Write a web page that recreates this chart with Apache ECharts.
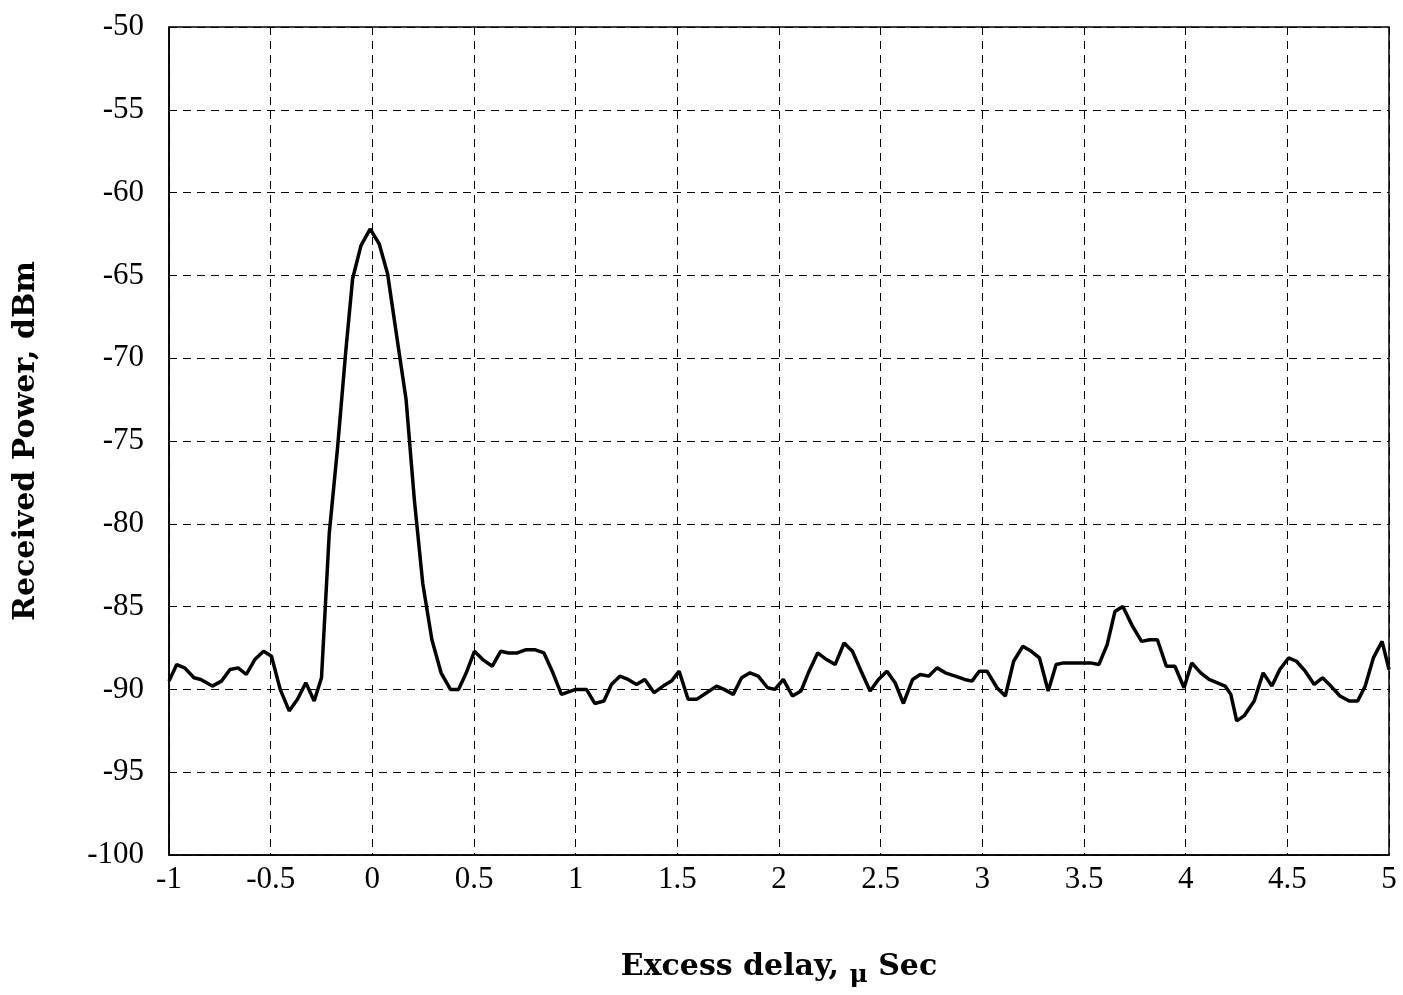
<!DOCTYPE html>
<html>
<head>
<meta charset="utf-8">
<title>Power delay profile</title>
<script src="https://cdn.jsdelivr.net/npm/echarts@6/dist/echarts.min.js"></script>
<style>
  html, body { margin: 0; padding: 0; background: #fff; }
  #chart { width: 1403px; height: 995px; }
</style>
</head>
<body>
<div id="chart"></div>
<script>
// Excess delay samples (µs) and received power (dBm)
const delay = [
  -1.000, -0.962, -0.923, -0.877, -0.844, -0.787, -0.742, -0.700, -0.660, -0.620,
  -0.578, -0.535, -0.496, -0.453, -0.409, -0.368, -0.327, -0.286, -0.250, -0.212,
  -0.171, -0.130, -0.097, -0.056, -0.011, 0.034, 0.075, 0.125, 0.166, 0.207,
  0.248, 0.293, 0.338, 0.384, 0.424, 0.462, 0.502, 0.543, 0.590, 0.631,
  0.670, 0.713, 0.757, 0.798, 0.844, 0.888, 0.930, 1.000, 1.053, 1.094,
  1.139, 1.176, 1.217, 1.258, 1.299, 1.340, 1.386, 1.430, 1.471, 1.509,
  1.553, 1.595, 1.644, 1.693, 1.730, 1.775, 1.816, 1.857, 1.898, 1.944,
  1.980, 2.021, 2.066, 2.108, 2.148, 2.190, 2.234, 2.276, 2.320, 2.361,
  2.404, 2.448, 2.489, 2.531, 2.571, 2.612, 2.657, 2.695, 2.736, 2.777,
  2.818, 2.867, 2.913, 2.949, 2.985, 3.023, 3.072, 3.113, 3.154, 3.199,
  3.241, 3.281, 3.324, 3.363, 3.400, 3.442, 3.488, 3.532, 3.573, 3.614,
  3.652, 3.691, 3.737, 3.783, 3.823, 3.861, 3.905, 3.947, 3.992, 4.030,
  4.074, 4.115, 4.156, 4.194, 4.222, 4.251, 4.287, 4.337, 4.381, 4.424,
  4.463, 4.506, 4.545, 4.588, 4.632, 4.673, 4.714, 4.759, 4.804, 4.846,
  4.883, 4.923, 4.966, 5.000
];
const power = [
  -89.5, -88.5, -88.7, -89.3, -89.4, -89.8, -89.5, -88.8, -88.7, -89.1,
  -88.2, -87.7, -88.0, -90.0, -91.3, -90.6, -89.6, -90.7, -89.3, -80.6,
  -75.4, -69.5, -65.2, -63.2, -62.2, -63.1, -64.9, -69.1, -72.5, -78.6,
  -83.6, -87.0, -89.0, -90.0, -90.0, -89.0, -87.7, -88.2, -88.6, -87.7,
  -87.8, -87.8, -87.6, -87.6, -87.8, -89.0, -90.3, -90.0, -90.0, -90.85,
  -90.7, -89.7, -89.2, -89.4, -89.7, -89.4, -90.2, -89.8, -89.5, -88.9,
  -90.6, -90.6, -90.2, -89.8, -90.0, -90.3, -89.3, -89.0, -89.2, -89.9,
  -90.0, -89.4, -90.4, -90.1, -88.9, -87.8, -88.2, -88.5, -87.2, -87.7,
  -88.9, -90.1, -89.4, -88.9, -89.6, -90.85, -89.4, -89.1, -89.2, -88.7,
  -89.0, -89.2, -89.4, -89.5, -88.9, -88.9, -89.9, -90.4, -88.3, -87.4,
  -87.7, -88.1, -90.1, -88.5, -88.4, -88.4, -88.4, -88.4, -88.5, -87.3,
  -85.3, -85.0, -86.15, -87.1, -87.0, -87.0, -88.6, -88.6, -89.9, -88.4,
  -89.0, -89.4, -89.6, -89.8, -90.3, -91.9, -91.6, -90.7, -89.0, -89.8,
  -88.8, -88.1, -88.3, -88.9, -89.7, -89.3, -89.8, -90.4, -90.7, -90.7,
  -89.8, -88.1, -87.1, -88.8
];

// Axis ranges and titles
const xRange = { min: -1, max: 5, step: 0.5 };
const yRange = { min: -100, max: -50, step: 5 };
const xTitle = 'Excess delay, {mu|\u03bc} Sec';
const yTitle = 'Received Power, dBm';

const points = delay.map((d, i) => [d, power[i]]);

const serif = '"Liberation Serif", "Times New Roman", serif';
const titleFont = '"DejaVu Serif", "Liberation Serif", serif';

const gridLine = {
  show: true,
  lineStyle: { color: '#000', width: 1, type: [8, 6] }
};

const chart = echarts.init(document.getElementById('chart'), null, { renderer: 'canvas' });
chart.setOption({
  backgroundColor: '#fff',
  animation: false,
  grid: {
    left: 169, right: 14, top: 27, bottom: 140,
    show: true, borderColor: '#000', borderWidth: 1.5,
    containLabel: false
  },
  xAxis: {
    type: 'value',
    min: xRange.min, max: xRange.max, interval: xRange.step,
    axisLine: { show: true, onZero: false, lineStyle: { color: '#000', width: 1.5 } },
    axisTick: { show: false },
    splitLine: gridLine,
    axisLabel: {
      color: '#000', fontFamily: serif, fontSize: 31, margin: 9,
      showMinLabel: true, showMaxLabel: true
    },
    name: xTitle,
    nameLocation: 'middle',
    nameGap: 92,
    nameTextStyle: {
      color: '#000', fontFamily: titleFont, fontWeight: 'bold', fontSize: 30,
      rich: {
        mu: { fontFamily: titleFont, fontWeight: 'bold', fontSize: 25, color: '#000', padding: [16, 0, 0, 0] }
      }
    }
  },
  yAxis: {
    type: 'value',
    min: yRange.min, max: yRange.max, interval: yRange.step,
    axisLine: { show: true, onZero: false, lineStyle: { color: '#000', width: 1.5 } },
    axisTick: { show: false },
    splitLine: gridLine,
    axisLabel: {
      color: '#000', fontFamily: serif, fontSize: 31, margin: 25,
      showMinLabel: true, showMaxLabel: true
    },
    name: yTitle,
    nameLocation: 'middle',
    nameGap: 128,
    nameRotate: 90,
    nameTextStyle: {
      color: '#000', fontFamily: titleFont, fontWeight: 'bold', fontSize: 30
    }
  },
  series: [{
    type: 'line',
    data: points,
    showSymbol: false,
    smooth: false,
    lineStyle: { color: '#000', width: 3.5 },
    itemStyle: { color: '#000' }
  }]
});
</script>
</body>
</html>
